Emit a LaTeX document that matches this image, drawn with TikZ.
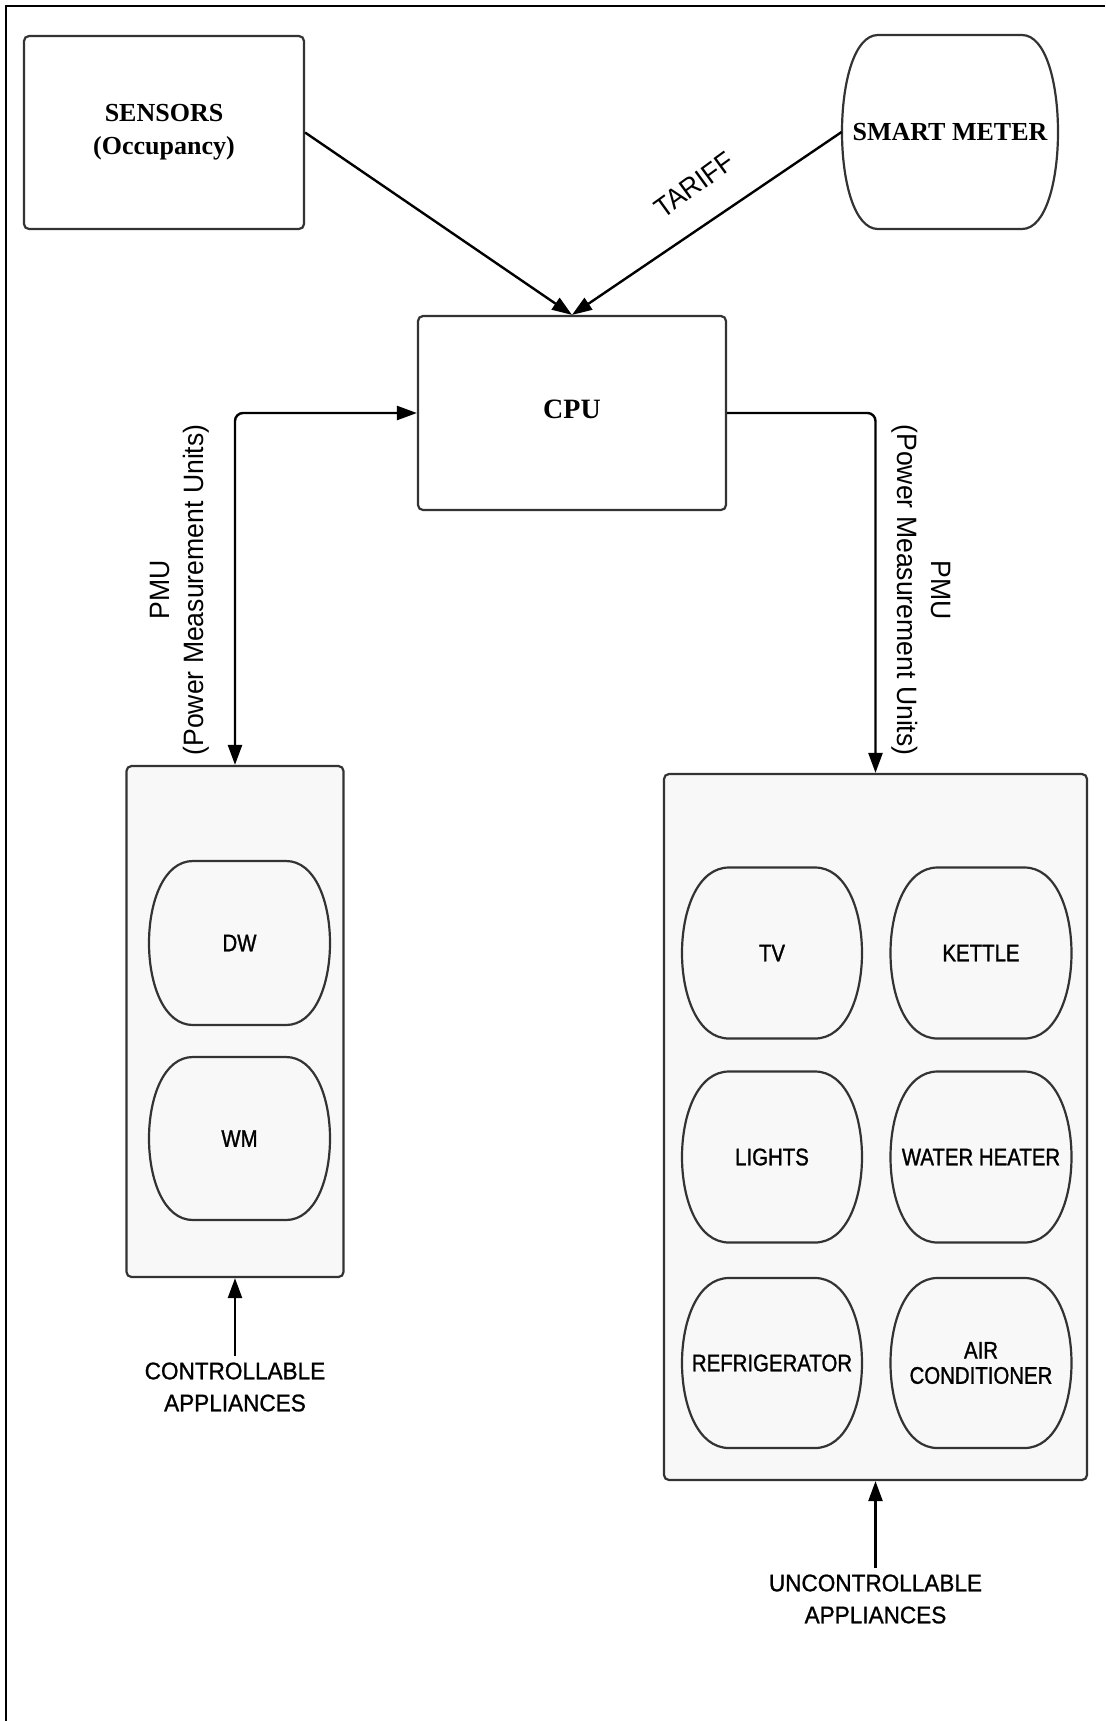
\documentclass[tikz,border=0pt]{standalone}
\usepackage{fontspec}
\setmainfont{Liberation Serif}
\newfontfamily\labelsans{Liberation Sans}[FakeStretch=0.94,FakeBold=1]
\newfontfamily\tariffsans{Liberation Sans}[FakeStretch=0.94]
\newfontfamily\appsans{Liberation Sans}[FakeStretch=0.85,FakeBold=1.2]
\newfontfamily\pmusans{Liberation Sans}[FakeStretch=0.95]
\usetikzlibrary{arrows.meta}
\definecolor{boxline}{HTML}{333333}
\definecolor{boxfill}{HTML}{F8F8F8}
% bulged shape: cx, cy, w, h, corner inset a, fill
\newcommand\bulgeshape[6]{%
  \filldraw[shapeline,fill=#6] ({#1-#3/2+#5},{#2-#4/2}) -- ({#1+#3/2-#5},{#2-#4/2})
   .. controls ({#1+#3/2+#5/3},{#2-#4/2}) and ({#1+#3/2+#5/3},{#2+#4/2}) .. ({#1+#3/2-#5},{#2+#4/2})
   -- ({#1-#3/2+#5},{#2+#4/2})
   .. controls ({#1-#3/2-#5/3},{#2+#4/2}) and ({#1-#3/2-#5/3},{#2-#4/2}) .. ({#1-#3/2+#5},{#2-#4/2}) -- cycle;}
\begin{document}
\begin{tikzpicture}[x=0.5pt,y=-0.5pt,
  box/.style={draw=boxline, line width=1.1pt, rounded corners=2.5pt, inner sep=0pt},
  shapeline/.style={draw=boxline, line width=1.1pt},
  serifb/.style={font=\fontsize{13}{16.5}\selectfont\bfseries, align=center, inner sep=0pt},
  applabel/.style={font=\appsans\fontsize{12}{12.6}\selectfont, align=center, inner sep=0pt},
  bottomlabel/.style={font=\labelsans\fontsize{12}{16}\selectfont, align=center, inner sep=3pt},
  pmulabel/.style={font=\pmusans\fontsize{14}{17}\selectfont, align=center, inner sep=0pt},
  arr/.style={-{Triangle[length=10pt,width=7pt]}, line width=1.2pt, black},
  darr/.style={{Triangle[length=10pt,width=7pt]}-{Triangle[length=10pt,width=7pt]}, line width=1.2pt, black}
]
\useasboundingbox (0,0) rectangle (1105,1721);
% frame (top and left edges)
\draw[line width=1.2pt, black] (6,1721) -- (6,6) -- (1105,6);

% top row
\node[box, minimum width=140pt, minimum height=96.5pt, serifb] (sensors) at (164,132.5) {SENSORS\\(Occupancy)};
\bulgeshape{950}{132}{216}{194}{36}{white}
\node[serifb, minimum width=108pt, minimum height=97pt] (meter) at (950,132) {SMART METER};

% CPU
\node[box, minimum width=154pt, minimum height=97pt, text depth=4pt, font=\fontsize{14}{17}\selectfont\bfseries] (cpu) at (572,413) {CPU};

% containers
\node[box, fill=boxfill, minimum width=108.5pt, minimum height=255.5pt] (lbox) at (235,1021.5) {};
\node[box, fill=boxfill, minimum width=211.5pt, minimum height=353pt] (rbox) at (875.5,1127) {};

% controllable appliances
\bulgeshape{239.5}{943}{181}{164}{44}{boxfill}
\node[applabel] (dw) at (239.5,943) {DW};
\bulgeshape{239.5}{1138.5}{181}{163}{44}{boxfill}
\node[applabel] (wm) at (239.5,1138.5) {WM};

% uncontrollable appliances
\bulgeshape{772}{953}{180}{171}{47}{boxfill}
\node[applabel] (tv) at (772,953) {TV};
\bulgeshape{981}{953}{181}{171}{47}{boxfill}
\node[applabel] (kettle) at (981,953) {KETTLE};
\bulgeshape{772}{1157}{180}{171}{47}{boxfill}
\node[applabel] (lights) at (772,1157) {LIGHTS};
\bulgeshape{981}{1157}{181}{171}{47}{boxfill}
\node[applabel] (heater) at (981,1157) {WATER HEATER};
\bulgeshape{772}{1363}{180}{170}{47}{boxfill}
\node[applabel] (fridge) at (772,1363) {REFRIGERATOR};
\bulgeshape{981}{1363}{181}{170}{47}{boxfill}
\node[applabel] (ac) at (981,1363) {AIR\\CONDITIONER};

% connectors
\draw[arr] (sensors.east) -- (cpu.north);
\draw[arr] (meter.west) -- (cpu.north);
\node[font=\tariffsans\fontsize{14}{17}\selectfont, rotate=36] (tariff) at (694,185) {TARIFF};

\draw[darr, rounded corners=4pt] (lbox.north) |- (cpu.west);
\draw[arr, rounded corners=4pt] (cpu.east) -| (rbox.north);

\node[pmulabel, rotate=90] (pmuleft) at (180,590) {PMU\\(Power Measurement Units)};
\node[pmulabel, rotate=-90] (pmuright) at (921.5,590) {PMU\\(Power Measurement Units)};

% bottom labels
\node[bottomlabel] (ctl) at (235,1387) {CONTROLLABLE\\APPLIANCES};
\draw[arr] (ctl.north) -- (lbox.south);
\node[bottomlabel] (uctl) at (875.5,1599) {UNCONTROLLABLE\\APPLIANCES};
\draw[arr] (uctl.north) -- (rbox.south);
\end{tikzpicture}
\end{document}
